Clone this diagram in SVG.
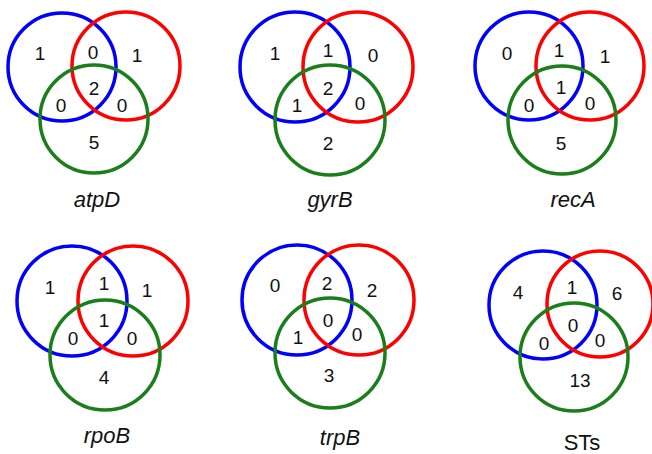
<svg xmlns="http://www.w3.org/2000/svg" width="652" height="454" viewBox="0 0 652 454">
<style>
.b{fill:none;stroke:#0000ff;stroke-width:3.5}
.r{fill:none;stroke:#ff0000;stroke-width:3.5}
.g{fill:none;stroke:#1a7f1a;stroke-width:3.5}
.n{font-family:"Liberation Sans",Arial,sans-serif;font-size:19px;fill:#111;text-anchor:middle}
.l{font-family:"Liberation Sans",Arial,sans-serif;font-size:22px;fill:#111;text-anchor:middle;font-style:italic}
.s{font-style:normal}
</style>
<rect width="652" height="454" fill="#fff"/>
<g id="atpD">
<circle class="b" cx="62" cy="67" r="54"/><circle class="r" cx="126" cy="66" r="54"/><circle class="g" cx="94" cy="119" r="54"/>
<text class="n" x="40" y="60">1</text><text class="n" x="93" y="59">0</text><text class="n" x="137" y="62">1</text>
<text class="n" x="94" y="95">2</text><text class="n" x="61" y="112">0</text><text class="n" x="122" y="112">0</text>
<text class="n" x="94" y="149">5</text>
<text class="l" x="97" y="207">atpD</text>
</g>
<g id="gyrB">
<circle class="b" cx="295" cy="67" r="55"/><circle class="r" cx="358" cy="67" r="55"/><circle class="g" cx="330" cy="120" r="55"/>
<text class="n" x="275" y="60">1</text><text class="n" x="328" y="57">1</text><text class="n" x="373" y="62">0</text>
<text class="n" x="328" y="95">2</text><text class="n" x="297" y="112">1</text><text class="n" x="360" y="110">0</text>
<text class="n" x="328" y="150">2</text>
<text class="l" x="330" y="207">gyrB</text>
</g>
<g id="recA">
<circle class="b" cx="529" cy="66" r="54"/><circle class="r" cx="590" cy="66" r="54"/><circle class="g" cx="562" cy="120" r="54"/>
<text class="n" x="507" y="60">0</text><text class="n" x="559" y="57">1</text><text class="n" x="605" y="63">1</text>
<text class="n" x="561" y="94">1</text><text class="n" x="529" y="112">0</text><text class="n" x="590" y="110">0</text>
<text class="n" x="561" y="150">5</text>
<text class="l" x="573" y="207">recA</text>
</g>
<g id="rpoB">
<circle class="b" cx="72" cy="301" r="55"/><circle class="r" cx="133" cy="301" r="55"/><circle class="g" cx="105" cy="355" r="55"/>
<text class="n" x="50" y="294">1</text><text class="n" x="104" y="290">1</text><text class="n" x="147" y="297">1</text>
<text class="n" x="104" y="327">1</text><text class="n" x="73" y="345">0</text><text class="n" x="132" y="345">0</text>
<text class="n" x="104" y="384">4</text>
<text class="l" x="107" y="443">rpoB</text>
</g>
<g id="trpB">
<circle class="b" cx="297" cy="300" r="55"/><circle class="r" cx="359" cy="300" r="55"/><circle class="g" cx="330" cy="353" r="55"/>
<text class="n" x="275" y="292">0</text><text class="n" x="327" y="290">2</text><text class="n" x="372" y="297">2</text>
<text class="n" x="328" y="327">0</text><text class="n" x="298" y="344">1</text><text class="n" x="357" y="341">0</text>
<text class="n" x="329" y="382">3</text>
<text class="l" x="340" y="445">trpB</text>
</g>
<g id="STs">
<circle class="b" cx="543" cy="305" r="54"/><circle class="r" cx="600" cy="304" r="53"/><circle class="g" cx="574" cy="357" r="54"/>
<text class="n" x="518" y="299">4</text><text class="n" x="572" y="294">1</text><text class="n" x="617" y="300">6</text>
<text class="n" x="573" y="332">0</text><text class="n" x="544" y="350">0</text><text class="n" x="600" y="347">0</text>
<text class="n" x="580" y="387">13</text>
<text class="l s" x="582" y="450">STs</text>
</g>
</svg>
